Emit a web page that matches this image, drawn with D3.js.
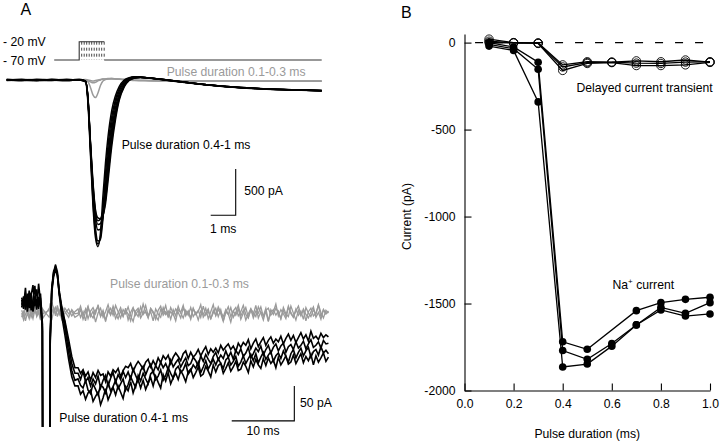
<!DOCTYPE html>
<html><head><meta charset="utf-8">
<script src="https://cdn.jsdelivr.net/npm/d3@7"></script>
<style>
body{margin:0;background:#fff}
text{font-family:"Liberation Sans",Arial,Helvetica,sans-serif}
</style>
</head><body>
<svg id="c" width="720" height="443"></svg>
<script>
// ---------- Panel B data ----------
const pulseDur = [0.1,0.2,0.3,0.4,0.5,0.6,0.7,0.8,0.9,1.0];
const delayed1 = [20, 0, -3, -140, -115, -113, -105, -110, -100, -112];
const delayed2 = [8, -2, -5, -160, -120, -115, -132, -132, -128, -114];
const delayed3 = [0, -1, -2, -128, -110, -112, -118, -120, -112, -110];
const na1 = [0, -25, -113, -1720, -1763, null, -1541, -1495, -1476, -1464];
const na2 = [-10, -35, -153, -1770, -1821, -1730, -1623, -1522, -1556, -1495];
const na3 = [-20, -45, -341, -1865, -1848, -1745, -1623, -1537, -1572, -1560];
const yTicksB = [0, -500, -1000, -1500, -2000];
const xTicksB = [0.0, 0.2, 0.4, 0.6, 0.8, 1.0];

// ---------- Panel A (top, fast time base) ----------
const tTop = [0, 0.6, 1.2, 1.8, 2.4, 2.9, 3.15, 3.25, 3.35, 3.45, 3.55, 3.65, 3.75, 3.85, 3.95, 4.05, 4.2, 4.35, 4.5, 4.7, 4.9, 5.1, 5.35, 5.7, 6.1, 6.6, 7.2, 8.0, 8.8, 9.6, 10.4, 11.4, 12.6];
const topLong1 = [0, 5, -5, 5, 0, 0, -20, -250, -800, -1350, -1700, -1800, -1650, -1250, -900, -620, -330, -170, -70, 0, 25, 35, 32, 22, 10, -5, -25, -50, -70, -85, -95, -105, -112];
const topLong2 = [0, -5, 5, 0, -5, 0, -15, -220, -760, -1300, -1650, -1770, -1700, -1400, -1020, -720, -400, -210, -95, -10, 20, 32, 30, 20, 8, -8, -28, -52, -72, -86, -97, -106, -115];
const topLong3 = [5, 0, -5, 5, 0, 5, -10, -200, -720, -1250, -1600, -1740, -1720, -1500, -1150, -820, -470, -250, -120, -25, 15, 30, 30, 20, 8, -10, -30, -54, -74, -88, -99, -107, -117];
const topLong4 = [0, 5, 0, -5, 5, 0, -15, -210, -700, -1180, -1500, -1620, -1610, -1480, -1200, -900, -540, -300, -150, -40, 10, 28, 30, 22, 10, -8, -28, -52, -72, -87, -98, -106, -116];
const topLong5 = [-5, 0, 5, 0, -5, 0, -10, -190, -680, -1120, -1420, -1520, -1500, -1420, -1230, -960, -600, -350, -180, -55, 5, 25, 30, 22, 10, -6, -26, -50, -70, -85, -97, -105, -114];
const topLong6 = [0, -5, 0, 5, 0, 5, -10, -200, -690, -1150, -1450, -1560, -1550, -1470, -1300, -1040, -660, -390, -200, -65, 0, 22, 28, 22, 10, -6, -26, -50, -70, -86, -98, -106, -116];
const topLong7 = [5, 0, -5, 0, 5, 0, -10, -190, -670, -1100, -1400, -1490, -1500, -1460, -1340, -1100, -720, -430, -220, -75, -5, 20, 28, 22, 10, -5, -25, -50, -70, -85, -97, -106, -115];
const topShort1 = [0, 5, -5, 0, 5, 0, 5, 0, -5, -10, -5, 0, 5, 10, 10, 12, 15, 12, 10, 5, 0, -5, -5, -8, -10, -8, -10, -12, -10, -12, -10, -12, -12];
const topShort2 = [5, 0, 0, -5, 0, 5, 0, -10, -20, -30, -25, -10, 0, 10, 12, 15, 15, 12, 8, 5, 0, -3, -5, -8, -8, -10, -10, -10, -12, -10, -14, -12, -14];
const topShort3 = [0, -5, 5, 0, -5, 0, -5, -20, -80, -160, -190, -140, -60, -10, 5, 10, 12, 10, 8, 5, 0, -2, -5, -6, -8, -10, -12, -10, -12, -12, -10, -14, -12];
// voltage protocol
const cmdHold = -70, cmdStep = -20;
const cmdStart = 1.9, stepOn = 2.9, cmdEnd = 12.6;

// ---------- Panel A (bottom, slow time base) ----------
const tBot = [0, 0.3, 0.6, 0.9, 1.2, 1.5, 1.8, 2.1, 2.4, 2.7, 3.0,
  3.3, 3.4, 4.4, 4.55, 4.8, 5.1, 5.4, 5.7, 6.0, 6.4, 6.9, 7.5, 8.0, 8.5,
  9.0, 9.4, 9.8, 10.2, 10.6, 11.0, 11.4, 11.8, 12.2, 12.6, 13.0, 13.4, 13.8, 14.2, 14.6, 15.0, 15.4, 15.8, 16.2, 16.6,
  17.0, 17.4, 17.8, 18.2, 18.6, 19.0, 19.4, 19.8, 20.2, 20.6, 21.0, 21.4, 21.8, 22.2, 22.6, 23.0, 23.4, 23.8, 24.2, 24.6,
  25.0, 25.4, 25.8, 26.2, 26.6, 27.0, 27.4, 27.8, 28.2, 28.6, 29.0, 29.4, 29.8, 30.2, 30.6, 31.0, 31.4, 31.8, 32.2, 32.6,
  33.0, 33.4, 33.8, 34.2, 34.6, 35.0, 35.4, 35.8, 36.2, 36.6, 37.0, 37.4, 37.8, 38.2, 38.6, 39.0, 39.4, 39.8, 40.2, 40.6,
  41.0, 41.4, 41.8, 42.2, 42.6, 43.0, 43.4, 43.8, 44.2, 44.6, 45.0, 45.4, 45.8, 46.2, 46.6, 47.0, 47.4, 47.8, 48.2, 48.6, 49.0];
const botLong1 = [5, -8, 12, -4, 18, -10, 3, 25, -6, 9, -3,
  -30, -400, -400, -60, 15, 38, 48, 40, 12, -18, -45, -80, -105, -118,
  -118, -130, -125, -137, -128, -124, -140, -133, -127, -145, -135, -122, -138, -129, -120, -131, -118, -127, -136, -119,
  -125, -112, -128, -117, -109, -121, -110, -123, -114, -106, -118, -104, -113, -121, -102, -111, -99, -115, -106, -100,
  -109, -96, -103, -112, -98, -94, -106, -99, -91, -104, -101, -90, -97, -105, -88, -98, -89, -86, -100, -93,
  -85, -97, -91, -83, -96, -94, -84, -90, -99, -82, -91, -80, -88, -93, -79, -89, -78, -86, -81, -92,
  -77, -88, -82, -75, -87, -84, -74, -86, -79, -72, -85, -76, -82, -73, -88, -75, -84, -78, -71, -83, -77];
const botLong2 = [-6, 10, -3, 14, -7, 6, -12, 4, 20, -5, 8,
  -40, -400, -400, -45, 20, 42, 52, 42, 15, -10, -35, -70, -96, -110,
  -108, -117, -121, -110, -124, -129, -115, -123, -131, -117, -120, -128, -113, -125, -119, -110, -122, -115, -108, -124,
  -116, -105, -113, -120, -103, -111, -100, -108, -115, -101, -97, -109, -104, -95, -110, -103, -92, -100, -107, -94,
  -90, -99, -95, -86, -101, -96, -88, -93, -84, -99, -91, -82, -94, -87, -80, -88, -79, -86, -93, -81,
  -77, -88, -83, -76, -90, -84, -75, -86, -79, -73, -82, -72, -85, -77, -70, -80, -74, -69, -83, -75,
  -71, -79, -68, -76, -84, -72, -66, -78, -70, -64, -75, -68, -63, -77, -69, -66, -74, -62, -71, -67, -72];
const botLong3 = [8, -4, 22, -12, 4, 15, -5, 10, -9, 28, 2,
  -35, -400, -400, -55, 18, 44, 55, 45, 18, -5, -28, -60, -86, -100,
  -100, -109, -97, -112, -106, -118, -108, -115, -104, -121, -110, -103, -118, -107, -99, -113, -102, -109, -97, -106,
  -98, -108, -94, -103, -111, -96, -90, -102, -93, -87, -99, -89, -95, -84, -92, -86, -95, -81, -91, -85,
  -80, -91, -84, -78, -89, -86, -77, -82, -90, -75, -83, -73, -80, -86, -76, -70, -81, -74, -79, -68,
  -77, -70, -80, -67, -73, -65, -76, -71, -63, -78, -72, -64, -69, -61, -74, -66, -60, -71, -63, -58,
  -68, -61, -57, -70, -62, -59, -66, -55, -64, -60, -54, -65, -58, -52, -63, -60, -55, -64, -53, -58, -57];
const botLong4 = [-2, 7, -9, 3, -5, 11, 26, -4, 6, -8, 14,
  -28, -400, -400, -50, 22, 46, 50, 40, 14, -8, -25, -52, -76, -92,
  -92, -100, -95, -104, -98, -110, -99, -106, -96, -103, -101, -112, -98, -104, -95, -99, -93, -105, -96, -90,
  -92, -86, -97, -89, -83, -88, -94, -84, -80, -91, -82, -89, -78, -85, -75, -80, -74, -86, -77, -71,
  -76, -82, -72, -68, -79, -70, -77, -73, -66, -75, -68, -62, -73, -65, -70, -64, -71, -60, -67, -62,
  -58, -66, -61, -69, -57, -63, -56, -60, -52, -65, -57, -51, -62, -55, -49, -60, -53, -48, -57, -51,
  -55, -47, -58, -50, -44, -53, -46, -56, -49, -42, -51, -45, -54, -40, -50, -47, -52, -43, -49, -45, -48];
const botShort1 = [-10, -18, -5, -15, -8, -20, -12, -3, -16, -9, -22,
  -6, -15, -10, 0, -14, -5, -18, -8, -16, -4, -12, -20, -9, -15,
  -14, -4, -18, -8, -22, -11, -6, -15, -2, -19, -10, -24, -13, -7, -17, -3, -12, -21, -9, -15,
  -5, -18, -26, -11, -7, -16, -1, -13, -20, -8, -14, -23, -10, -4, -17, -12, -19, -6, -15, -25,
  -9, -13, -3, -18, -11, -21, -7, -16, -12, -2, -20, -14, -8, -23, -10, -17, -5, -13, -19, -9,
  -15, -27, -11, -6, -18, -12, -3, -16, -21, -8, -13, -19, -5, -14, -24, -10, -7, -17, -12, -1,
  -18, -9, -15, -22, -6, -13, -20, -11, -4, -16, -10, -25, -12, -7, -18, -14, -3, -19, -9, -15, -11];
const botShort2 = [-20, -12, -25, -14, -22, -9, -17, -6, -19, -13, -24,
  -13, -21, -7, -16, -24, -11, -6, -19, -10, -23, -14, -8, -18, -12,
  -8, -20, -12, -25, -6, -16, -21, -10, -5, -18, -13, -26, -9, -17, -4, -15, -22, -11, -19, -7,
  -24, -13, -6, -17, -10, -21, -14, -3, -18, -12, -25, -8, -15, -20, -6, -16, -11, -23, -9, -18,
  -4, -14, -21, -10, -17, -6, -19, -13, -24, -11, -16, -7, -22, -12, -2, -18, -9, -15, -26, -13,
  -5, -19, -11, -17, -8, -23, -14, -6, -20, -10, -16, -3, -21, -12, -18, -7, -25, -13, -9, -17,
  -11, -22, -6, -15, -19, -4, -14, -24, -10, -18, -8, -16, -21, -12, -5, -20, -13, -23, -9, -15, -12];
const botShort3 = [-14, -24, -16, -8, -19, -13, -22, -10, -17, -5, -15,
  -17, -9, -20, -12, 2, -8, -15, -3, -13, -18, -7, -15, -11, -20,
  -17, -9, -23, -13, -4, -19, -11, -27, -14, -7, -20, -12, -2, -16, -9, -22, -14, -6, -18, -10,
  -15, -25, -8, -13, -19, -5, -16, -11, -21, -7, -12, -18, -24, -9, -14, -3, -19, -12, -17, -8,
  -13, -21, -6, -16, -12, -23, -8, -15, -10, -20, -4, -17, -11, -22, -14, -7, -19, -9, -25, -12,
  -16, -6, -20, -13, -3, -18, -10, -24, -15, -8, -21, -11, -14, -5, -19, -12, -26, -9, -16, -7,
  -13, -22, -10, -18, -4, -15, -20, -8, -17, -11, -23, -6, -14, -19, -9, -16, -2, -13, -21, -10, -14];

// ---------- drawing ----------
const svg = d3.select("#c");
const FS = "12.2px";
const GRAY = "#9a9a9a";

// ===== Panel A top =====
const xA = d3.scaleLinear().domain([0, 12.6]).range([6.7, 321.7]);
const yA = d3.scaleLinear().domain([-2000, 0]).range([265.2, 80]);
const yV = d3.scaleLinear().domain([-70, -20]).range([60, 41.7]);

svg.append("text").attr("x", 20.5).attr("y", 15).attr("font-size", "16px").text("A");
svg.append("text").attr("x", 3).attr("y", 45.5).attr("font-size", FS).text("- 20 mV");
svg.append("text").attr("x", 3).attr("y", 64.5).attr("font-size", FS).text("- 70 mV");

const gV = svg.append("g").attr("stroke", "#333").attr("fill", "none");
gV.append("path").attr("stroke-width", 1.1).attr("d", d3.line()([
  [xA(cmdStart), yV(cmdHold)], [xA(stepOn), yV(cmdHold)], [xA(stepOn), yV(cmdStep)],
  [xA(stepOn + d3.max(pulseDur)), yV(cmdStep)]]));
gV.append("path").attr("stroke-width", 1.1).attr("d", d3.line()([
  [xA(stepOn + d3.max(pulseDur)), yV(cmdHold)], [xA(cmdEnd), yV(cmdHold)]]));
pulseDur.forEach(d => {
  gV.append("line").attr("x1", xA(stepOn + d)).attr("x2", xA(stepOn + d))
    .attr("y1", yV(cmdStep)).attr("y2", yV(cmdHold)).attr("stroke-width", 0.9)
    .attr("stroke-dasharray", "3,3");
});

const lineTop = d3.line().x((d, i) => xA(tTop[i])).y(d => yA(d)).curve(d3.curveMonotoneX);
[topShort1, topShort2, topShort3].forEach(s => {
  svg.append("path").attr("d", lineTop(s)).attr("fill", "none").attr("stroke", GRAY).attr("stroke-width", 1.5);
});
[topLong1, topLong2, topLong3, topLong4, topLong5, topLong6, topLong7].forEach(s => {
  svg.append("path").attr("d", lineTop(s)).attr("fill", "none").attr("stroke", "#000").attr("stroke-width", 1.5);
});
svg.append("text").attr("x", 166.7).attr("y", 75.5).attr("font-size", FS).attr("fill", GRAY).text("Pulse duration 0.1-0.3 ms");
svg.append("text").attr("x", 121.7).attr("y", 148.5).attr("font-size", FS).text("Pulse duration 0.4-1 ms");
// scale bar: 1 ms, 500 pA
const sbT = 8.16;
svg.append("path").attr("fill", "none").attr("stroke", "#000").attr("stroke-width", 1.1)
  .attr("d", d3.line()([[xA(sbT), yA(-1460)], [xA(sbT + 1), yA(-1460)], [xA(sbT + 1), yA(-960)]]));
svg.append("text").attr("x", xA(sbT + 1) + 8.6).attr("y", 195).attr("font-size", FS).text("500 pA");
svg.append("text").attr("x", xA(sbT + 0.5)).attr("y", 232.7).attr("text-anchor", "middle").attr("font-size", FS).text("1 ms");

// ===== Panel A bottom =====
const xL = d3.scaleLinear().domain([0, 49]).range([21.7, 21.7 + 49 * 6.26]);
const yL = d3.scaleLinear().domain([-200, 0]).range([443.3, 303.3]);
svg.append("clipPath").attr("id", "clipL").append("rect").attr("x", 0).attr("y", 250).attr("width", 400).attr("height", 177);
const gL = svg.append("g").attr("clip-path", "url(#clipL)");
const lineBot = d3.line().x((d, i) => xL(tBot[i])).y(d => yL(d));
[botShort1, botShort2, botShort3].forEach(s => {
  gL.append("path").attr("d", lineBot(s)).attr("fill", "none").attr("stroke", GRAY).attr("stroke-width", 1.3);
});
[botLong1, botLong2, botLong3, botLong4].forEach(s => {
  gL.append("path").attr("d", lineBot(s)).attr("fill", "none").attr("stroke", "#000").attr("stroke-width", 1.6);
});
svg.append("text").attr("x", 110).attr("y", 288.3).attr("font-size", FS).attr("fill", GRAY).text("Pulse duration 0.1-0.3 ms");
svg.append("text").attr("x", 59.3).attr("y", 421.7).attr("font-size", FS).text("Pulse duration 0.4-1 ms");
const sbT2 = 33.55;
svg.append("path").attr("fill", "none").attr("stroke", "#000").attr("stroke-width", 1.1)
  .attr("d", d3.line()([[xL(sbT2), yL(-168)], [xL(sbT2 + 10), yL(-168)], [xL(sbT2 + 10), yL(-118)]]));
svg.append("text").attr("x", xL(sbT2 + 10) + 5.7).attr("y", 406.7).attr("font-size", FS).text("50 pA");
svg.append("text").attr("x", xL(sbT2 + 5)).attr("y", 435).attr("text-anchor", "middle").attr("font-size", FS).text("10 ms");

// ===== Panel B =====
const xB = d3.scaleLinear().domain([0, 1]).range([464.5, 710]);
const yB = d3.scaleLinear().domain([-2000, 50]).range([390.5, 33.9]);
svg.append("text").attr("x", 401).attr("y", 18.3).attr("font-size", "16px").text("B");

const axY = svg.append("g").attr("transform", `translate(${xB(0)},0)`)
  .call(d3.axisLeft(yB).tickValues(yTicksB).tickFormat(d3.format("d")).tickSize(-7).tickSizeOuter(0).tickPadding(9));
const axX = svg.append("g").attr("transform", `translate(0,${yB(-2000)})`)
  .call(d3.axisBottom(xB).tickValues(xTicksB).tickFormat(d3.format(".1f")).tickSize(-7).tickSizeOuter(0).tickPadding(9));
[axY, axX].forEach(a => {
  a.selectAll("text").attr("font-size", FS).attr("fill", "#000").attr("font-family", '"Liberation Sans",Arial,sans-serif');
  a.selectAll("line,path").attr("stroke", "#000").attr("stroke-width", 1.1);
});
axY.selectAll("text").text(d => d === 0 ? "0" : String(d));

svg.append("text").attr("x", xB(0.5)).attr("y", 438).attr("text-anchor", "middle").attr("font-size", FS).text("Pulse duration (ms)");
svg.append("text").attr("transform", `translate(411,${yB(-1000)}) rotate(-90)`).attr("text-anchor", "middle").attr("font-size", FS).text("Current (pA)");

svg.append("line").attr("x1", xB(0.043)).attr("x2", xB(1.0)).attr("y1", yB(0)).attr("y2", yB(0))
  .attr("stroke", "#000").attr("stroke-width", 1.1).attr("stroke-dasharray", "8,12");

const pts = arr => pulseDur.map((x, i) => [x, arr[i]]).filter(p => p[1] !== null);
const lineB = d3.line().x(p => xB(p[0])).y(p => yB(p[1]));
[na1, na2, na3].forEach(s => {
  svg.append("path").attr("d", lineB(pts(s))).attr("fill", "none").attr("stroke", "#000").attr("stroke-width", 1.3);
});
[na1, na2, na3].forEach(s => {
  svg.append("g").selectAll("circle").data(pts(s)).join("circle")
    .attr("cx", p => xB(p[0])).attr("cy", p => yB(p[1])).attr("r", 3.8).attr("fill", "#000");
});
[delayed1, delayed2, delayed3].forEach(s => {
  svg.append("path").attr("d", lineB(pts(s))).attr("fill", "none").attr("stroke", "#000").attr("stroke-width", 1.3);
});
[delayed1, delayed2, delayed3].forEach(s => {
  svg.append("g").selectAll("circle").data(pts(s)).join("circle")
    .attr("cx", p => xB(p[0])).attr("cy", p => yB(p[1])).attr("r", 4.2)
    .attr("fill", "none").attr("stroke", "#000").attr("stroke-width", 0.9);
});
svg.append("text").attr("x", 576.5).attr("y", 92).attr("font-size", FS).text("Delayed current transient");
const naT = svg.append("text").attr("x", 612.5).attr("y", 289.3).attr("font-size", FS);
naT.append("tspan").text("Na");
naT.append("tspan").attr("dy", -5).attr("font-size", "8px").text("+");
naT.append("tspan").attr("dy", 5).text(" current");
</script>
</body></html>
